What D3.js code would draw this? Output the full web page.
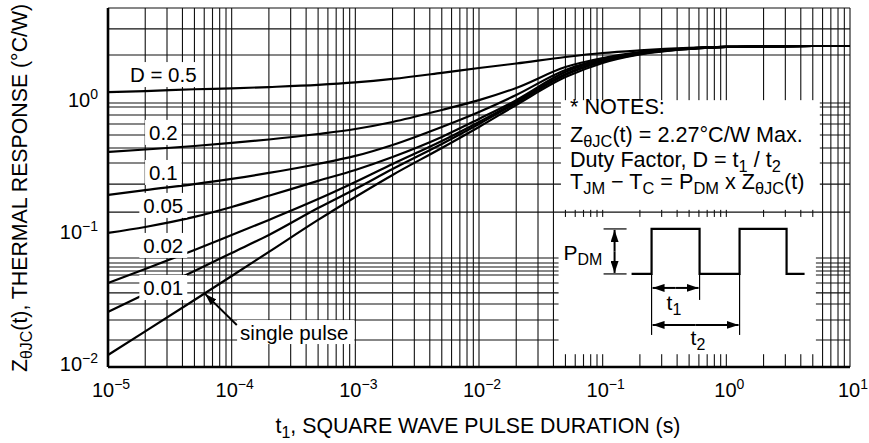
<!DOCTYPE html>
<html>
<head>
<meta charset="utf-8">
<script src="https://cdn.jsdelivr.net/npm/d3@7"></script>
<style>
  body { margin: 0; background: #fff; }
  svg text { font-family: "Liberation Sans", Arial, sans-serif; fill: #000; }
</style>
</head>
<body>
<div id="chart"></div>
<script>
// transient thermal response curves
var tSamples = [1e-5, 2e-5, 5e-5, 1e-4, 2e-4, 5e-4, 1e-3, 2e-3, 5e-3, 1e-2, 2e-2, 5e-2, 0.1, 0.2, 0.5, 1, 2, 5, 10];

var zD05 = [1.21, 1.23, 1.27, 1.29, 1.32, 1.37, 1.43, 1.52, 1.69, 1.84, 1.99, 2.23, 2.39, 2.50, 2.61, 2.66, 2.68, 2.70, 2.70];
var zD02 = [0.425, 0.444, 0.472, 0.498, 0.529, 0.582, 0.635, 0.718, 0.885, 1.05, 1.30, 1.87, 2.19, 2.43, 2.59, 2.66, 2.68, 2.70, 2.70];
var zD01 = [0.201, 0.219, 0.243, 0.266, 0.295, 0.345, 0.397, 0.481, 0.658, 0.855, 1.15, 1.78, 2.15, 2.41, 2.59, 2.66, 2.68, 2.70, 2.70];
var zD005 = [0.1036, 0.115, 0.137, 0.163, 0.198, 0.257, 0.311, 0.390, 0.553, 0.757, 1.05, 1.72, 2.12, 2.39, 2.59, 2.66, 2.68, 2.70, 2.70];
var zD002 = [0.0433, 0.0553, 0.077, 0.100, 0.130, 0.187, 0.252, 0.345, 0.515, 0.718, 1.02, 1.66, 2.08, 2.37, 2.57, 2.66, 2.68, 2.70, 2.70];
var zD001 = [0.0261, 0.0357, 0.0534, 0.0731, 0.100, 0.160, 0.223, 0.316, 0.489, 0.693, 1.00, 1.63, 2.05, 2.35, 2.57, 2.66, 2.68, 2.70, 2.70];
var zSingle = [0.01233, 0.0186, 0.0322, 0.0489, 0.0744, 0.130, 0.194, 0.285, 0.456, 0.658, 0.966, 1.57, 2.01, 2.33, 2.57, 2.66, 2.68, 2.70, 2.70];

var curveSeries = [zD05, zD02, zD01, zD005, zD002, zD001, zSingle];

// curve labels (left side), baseline positions in data units
var labelNames = ["D = 0.5", "0.2", "0.1", "0.05", "0.02", "0.01"];
var labelT = 2.8e-5;
var labelZ = [1.44, 0.525, 0.261, 0.147, 0.0731, 0.0351];

// axis ticks
var xTickExp = [-5, -4, -3, -2, -1, 0, 1];
var yTickExp = [-2, -1, 0];

// horizontal grid lines as drawn on the original sheet
var yGrid = [0.016, 0.0227, 0.030, 0.0364, 0.0433, 0.0498, 0.0534, 0.0572, 0.0613, 0.0669,
             0.149, 0.243, 0.351, 0.456, 0.572, 0.693, 0.811, 0.933, 1.0, 2.31, 3.64];

var W = 869, H = 443;
var margin = { top: 8, right: 19, bottom: 76, left: 108 };
var pw = W - margin.left - margin.right,
    ph = H - margin.top - margin.bottom;

var svg = d3.select("#chart").append("svg")
    .attr("width", W).attr("height", H);
var g = svg.append("g").attr("transform", "translate(" + margin.left + "," + margin.top + ")");

var x = d3.scaleLog().domain([1e-5, 10]).range([0, pw]);
var y = d3.scaleLog().domain([0.01, 5.24]).range([ph, 0]);

// vertical grid: 1..9 per decade
var xGrid = [];
for (var e = -5; e <= 0; e++) {
    for (var m = 1; m <= 9; m++) xGrid.push(m * Math.pow(10, e));
}
xGrid.push(10);

g.append("g").selectAll("line").data(xGrid).enter().append("line")
    .attr("x1", function (d) { return x(d); }).attr("x2", function (d) { return x(d); })
    .attr("y1", 0).attr("y2", ph)
    .attr("stroke", "#111").attr("stroke-width", 1.1);

g.append("g").selectAll("line").data(yGrid).enter().append("line")
    .attr("x1", 0).attr("x2", pw)
    .attr("y1", function (d) { return y(d); }).attr("y2", function (d) { return y(d); })
    .attr("stroke", "#111").attr("stroke-width", 1.1);

// top border
g.append("line").attr("x1", 0).attr("x2", pw).attr("y1", 0).attr("y2", 0)
    .attr("stroke", "#111").attr("stroke-width", 1.1);

// curves
var line = d3.line()
    .x(function (d) { return x(d[0]); })
    .y(function (d) { return y(d[1]); })
    .curve(d3.curveMonotoneX);

g.append("g").selectAll("path").data(curveSeries).enter().append("path")
    .attr("d", function (s) { return line(tSamples.map(function (t, i) { return [t, s[i]]; })); })
    .attr("fill", "none").attr("stroke", "#000").attr("stroke-width", 2.2);

// white boxes: notes and waveform insets
var notesBox = { t0: 0.046, t1: 5.7, z0: 0.155, z1: 1.05 };
var waveBox = { t0: 0.044, t1: 5.3, z0: 0.0125, z1: 0.137 };
[notesBox, waveBox].forEach(function (b) {
    g.append("rect")
        .attr("x", x(b.t0)).attr("y", y(b.z1))
        .attr("width", x(b.t1) - x(b.t0)).attr("height", y(b.z0) - y(b.z1))
        .attr("fill", "#fff");
});

// text with sub/superscript pieces
function richText(sel, parts, size, subScale) {
    var shift = 0;
    subScale = subScale || 0.7;
    parts.forEach(function (p) {
        var ts = sel.append("tspan").text(p.t);
        var target = 0;
        if (p.sub) { ts.attr("font-size", size * subScale); target = size * 0.25; }
        else if (p.sup) { ts.attr("font-size", size * subScale); target = -size * 0.38; }
        if (target - shift !== 0) ts.attr("dy", target - shift);
        shift = target;
    });
}

var labG = g.append("g");
labelNames.forEach(function (name, i) {
    var lg = labG.append("g");
    var txt = lg.append("text")
        .attr("x", x(labelT)).attr("y", y(labelZ[i]))
        .attr("text-anchor", "middle").attr("font-size", 20.5)
        .text(name);
    var bb = txt.node().getBBox();
    lg.insert("rect", "text")
        .attr("x", bb.x - 4).attr("y", bb.y - 1)
        .attr("width", bb.width + 8).attr("height", bb.height + 2)
        .attr("fill", "#fff");
});

// single pulse label and arrow
var spG = g.append("g");
var spT = spG.append("text")
    .attr("x", x(1.17e-4)).attr("y", y(0.016))
    .attr("font-size", 20.5).text("single pulse");
var spB = spT.node().getBBox();
spG.insert("rect", "text")
    .attr("x", spB.x - 3).attr("y", spB.y - 1)
    .attr("width", spB.width + 9).attr("height", spB.height + 1)
    .attr("fill", "#fff");

svg.append("defs").append("marker")
    .attr("id", "ah").attr("viewBox", "0 0 12 8")
    .attr("refX", 12).attr("refY", 4)
    .attr("markerWidth", 12).attr("markerHeight", 8)
    .attr("markerUnits", "userSpaceOnUse")
    .attr("orient", "auto")
    .append("path").attr("d", "M0,0 L12,4 L0,8 Z").attr("fill", "#000");

g.append("line")
    .attr("x1", x(1.10e-4)).attr("y1", y(0.0208))
    .attr("x2", x(6.1e-5)).attr("y2", y(0.0358))
    .attr("stroke", "#000").attr("stroke-width", 2)
    .attr("marker-end", "url(#ah)");

// axes frame (left and bottom heavy)
g.append("line").attr("x1", 0).attr("x2", 0).attr("y1", 0).attr("y2", ph)
    .attr("stroke", "#000").attr("stroke-width", 2.6);
g.append("line").attr("x1", 0).attr("x2", pw).attr("y1", ph).attr("y2", ph)
    .attr("stroke", "#000").attr("stroke-width", 2.6);

// tick labels
xTickExp.forEach(function (e) {
    var t = g.append("text")
        .attr("x", x(Math.pow(10, e)) + 3).attr("y", ph + 30)
        .attr("text-anchor", "middle").attr("font-size", 20);
    richText(t, [{ t: "10" }, { t: (e < 0 ? "\u2212" : "") + Math.abs(e), sup: true }], 20);
});
yTickExp.forEach(function (e) {
    var t = g.append("text")
        .attr("x", -10).attr("y", y(Math.pow(10, e)) + 4)
        .attr("text-anchor", "end").attr("font-size", 20);
    richText(t, [{ t: "10" }, { t: (e < 0 ? "\u2212" : "") + Math.abs(e), sup: true }], 20);
});

// axis titles
var xt = svg.append("text")
    .attr("x", 478).attr("y", 433)
    .attr("text-anchor", "middle").attr("font-size", 21.3);
richText(xt, [{ t: "t" }, { t: "1", sub: true }, { t: ", SQUARE WAVE PULSE DURATION (s)" }], 21.3, 0.75);

var yt = svg.append("text")
    .attr("transform", "translate(27,188) rotate(-90)")
    .attr("text-anchor", "middle").attr("font-size", 21.3);
richText(yt, [{ t: "Z" }, { t: "\u03b8JC", sub: true }, { t: "(t), THERMAL RESPONSE (\u00b0C/W)" }], 21.3, 0.75);

// notes
var notesX = 570;
var notesSize = 21.6;
var notesLines = [
    { y: 114, parts: [{ t: "* NOTES:" }] },
    { y: 142, parts: [{ t: "Z" }, { t: "\u03b8JC", sub: true }, { t: "(t) = 2.27\u00b0C/W Max." }] },
    { y: 167, parts: [{ t: "Duty Factor, D = t" }, { t: "1", sub: true }, { t: " / t" }, { t: "2", sub: true }] },
    { y: 189, parts: [{ t: "T" }, { t: "JM", sub: true }, { t: " \u2212 T" }, { t: "C", sub: true },
        { t: " = P" }, { t: "DM", sub: true }, { t: " x Z" }, { t: "\u03b8JC", sub: true }, { t: "(t)" }] }
];
notesLines.forEach(function (l) {
    var t = svg.append("text").attr("x", notesX).attr("y", l.y).attr("font-size", notesSize);
    richText(t, l.parts, notesSize, 0.76);
});

// waveform inset (schematic)
var wg = g.append("g").attr("transform", "translate(" + x(waveBox.t0) + "," + y(waveBox.z1) + ")");
var lo = 57, hi = 12;
wg.append("path")
    .attr("d", "M73," + lo + "H93V" + hi + "H141V" + lo + "H181V" + hi + "H228V" + lo + "H246")
    .attr("fill", "none").attr("stroke", "#000").attr("stroke-width", 2.2);
// P_DM dimension
wg.append("line").attr("x1", 45).attr("x2", 68).attr("y1", hi).attr("y2", hi).attr("stroke", "#000").attr("stroke-width", 1.2);
wg.append("line").attr("x1", 45).attr("x2", 68).attr("y1", lo).attr("y2", lo).attr("stroke", "#000").attr("stroke-width", 1.2);
wg.append("line").attr("x1", 56).attr("x2", 56).attr("y1", (lo + hi) / 2).attr("y2", hi + 1)
    .attr("stroke", "#000").attr("stroke-width", 2).attr("marker-end", "url(#ah)");
wg.append("line").attr("x1", 56).attr("x2", 56).attr("y1", (lo + hi) / 2).attr("y2", lo - 1)
    .attr("stroke", "#000").attr("stroke-width", 2).attr("marker-end", "url(#ah)");
// extension lines
wg.append("line").attr("x1", 93).attr("x2", 93).attr("y1", lo).attr("y2", 118).attr("stroke", "#000").attr("stroke-width", 1.2);
wg.append("line").attr("x1", 141).attr("x2", 141).attr("y1", lo).attr("y2", 83).attr("stroke", "#000").attr("stroke-width", 1.2);
wg.append("line").attr("x1", 181).attr("x2", 181).attr("y1", lo).attr("y2", 118).attr("stroke", "#000").attr("stroke-width", 1.2);
// t1, t2 arrows
[[71, 93, 141], [108, 93, 181]].forEach(function (a) {
    var mid = (a[1] + a[2]) / 2;
    wg.append("line").attr("x1", mid).attr("x2", a[1] + 1).attr("y1", a[0]).attr("y2", a[0])
        .attr("stroke", "#000").attr("stroke-width", 2).attr("marker-end", "url(#ah)");
    wg.append("line").attr("x1", mid).attr("x2", a[2] - 1).attr("y1", a[0]).attr("y2", a[0])
        .attr("stroke", "#000").attr("stroke-width", 2).attr("marker-end", "url(#ah)");
});
var pt = wg.append("text").attr("x", 5).attr("y", 43).attr("font-size", 21);
richText(pt, [{ t: "P" }, { t: "DM", sub: true }], 21, 0.76);
var t1 = wg.append("text").attr("x", 108).attr("y", 93).attr("font-size", 21);
richText(t1, [{ t: "t" }, { t: "1", sub: true }], 21, 0.76);
var t2 = wg.append("text").attr("x", 132).attr("y", 128).attr("font-size", 21);
richText(t2, [{ t: "t" }, { t: "2", sub: true }], 21, 0.76);
</script>
</body>
</html>
